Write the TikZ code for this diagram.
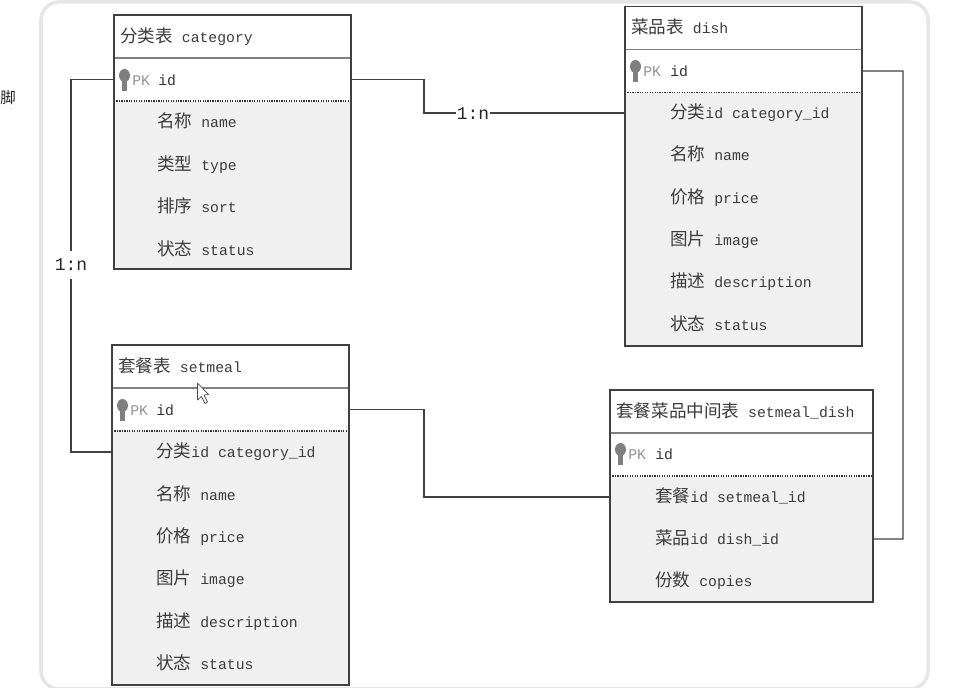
\documentclass[tikz,border=0pt]{standalone}
\usepackage{fontspec}
\setmainfont{Liberation Mono}
\newfontfamily\cjk[Scale=1.19]{Noto Sans CJK SC}
\newcommand{\cn}[1]{{\cjk #1}}
\definecolor{tableline}{HTML}{404040}
\definecolor{tabletext}{HTML}{3C3C3C}
\definecolor{bodygray}{HTML}{F0F0F0}
\definecolor{keygray}{HTML}{7F7F7F}
\definecolor{panelgray}{HTML}{E6E6E6}

\begin{document}
\begin{tikzpicture}[
    cell/.style={anchor=north west, minimum height=#1, inner sep=0pt, outer sep=0pt},
    titlecell/.style={cell=0.86cm, fill=white},
    pkcell/.style={cell=0.86cm, fill=white},
    bodycell/.style={cell=#1, fill=bodygray},
    tablelabel/.style={anchor=west, inner sep=0pt, text height=7pt, text depth=1pt, text=tabletext, font=\fontsize{8.4}{10}\selectfont},
    pklabel/.style={tablelabel, text=gray!85},
    idlabel/.style={tablelabel, text=black!80},
    rellabel/.style={inner sep=0pt, minimum width=0.68cm, minimum height=0.56cm, text=black!85, font=\fontsize{10.2}{12}\selectfont},
    tableframe/.style={draw=tableline, line width=0.8pt},
    relline/.style={draw=tableline, line width=0.8pt},
    titlerule/.style={draw=gray, line width=0.7pt},
    pkrule/.style={draw=black!80, line width=0.7pt, dash pattern=on 0.7pt off 0.7pt},
    pkkey/.pic={
        \fill[keygray] (0,0.09) ellipse (0.11 and 0.13);
        \fill[keygray] (-0.05,0.05) rectangle (0.05,-0.22);
    }
]
    \useasboundingbox (0,0) rectangle (19.4,13.74);

    % --- Panel behind the tables ---
    \draw[panelgray, line width=2pt, rounded corners=0.36cm] (0.82,13.70) rectangle (18.56,-0.04);
    \node[inner sep=0pt, text=black!85, font=\cjk\fontsize{7.4}{9}\selectfont] (sidechar) at (0.16,11.78) {脚};

    % --- Table category ---
    \node[titlecell, minimum width=4.74cm] (cattitle) at (2.28,13.44) {};
    \node[pkcell, minimum width=4.74cm] (catpk) at (cattitle.south west) {};
    \node[bodycell=3.36cm, minimum width=4.74cm] (catbody) at (catpk.south west) {};
    \draw[titlerule] (cattitle.south west) -- (cattitle.south east);
    \draw[pkrule] (catpk.south west) -- (catpk.south east);
    \draw[tableframe] (cattitle.north west) rectangle (catbody.south east);

    \node[tablelabel] (catname) at (2.40,13.00) {\cn{分类表} category};
    \pic at (2.49,12.14) {pkkey};
    \node[pklabel] (catpkl) at (2.64,12.14) {PK};
    \node[idlabel] (catid) at (3.16,12.14) {id};
    \node[tablelabel] (catrow1) at (3.14,11.30) {\cn{名称} name};
    \node[tablelabel] (catrow2) at (3.14,10.44) {\cn{类型} type};
    \node[tablelabel] (catrow3) at (3.14,9.60) {\cn{排序} sort};
    \node[tablelabel] (catrow4) at (3.14,8.74) {\cn{状态} status};

    % --- Table dish ---
    \node[titlecell, minimum width=4.74cm] (dishtitle) at (12.50,13.61) {};
    \node[pkcell, minimum width=4.74cm] (dishpk) at (dishtitle.south west) {};
    \node[bodycell=5.07cm, minimum width=4.74cm] (dishbody) at (dishpk.south west) {};
    \draw[titlerule] (dishtitle.south west) -- (dishtitle.south east);
    \draw[pkrule] (dishpk.south west) -- (dishpk.south east);
    \draw[tableframe] (dishtitle.north west) rectangle (dishbody.south east);

    \node[tablelabel] (dishname) at (12.62,13.18) {\cn{菜品表} dish};
    \pic at (12.71,12.32) {pkkey};
    \node[pklabel] (dishpkl) at (12.86,12.32) {PK};
    \node[idlabel] (dishid) at (13.40,12.32) {id};
    \node[tablelabel] (dishrow1) at (13.40,11.48) {\cn{分类}id category\_id};
    \node[tablelabel] (dishrow2) at (13.40,10.64) {\cn{名称} name};
    \node[tablelabel] (dishrow3) at (13.40,9.78) {\cn{价格} price};
    \node[tablelabel] (dishrow4) at (13.40,8.94) {\cn{图片} image};
    \node[tablelabel] (dishrow5) at (13.40,8.10) {\cn{描述} description};
    \node[tablelabel] (dishrow6) at (13.40,7.24) {\cn{状态} status};

    % --- Table setmeal ---
    \node[titlecell, minimum width=4.74cm] (mealtitle) at (2.24,6.84) {};
    \node[pkcell, minimum width=4.74cm] (mealpk) at (mealtitle.south west) {};
    \node[bodycell=5.08cm, minimum width=4.74cm] (mealbody) at (mealpk.south west) {};
    \draw[titlerule] (mealtitle.south west) -- (mealtitle.south east);
    \draw[pkrule] (mealpk.south west) -- (mealpk.south east);
    \draw[tableframe] (mealtitle.north west) rectangle (mealbody.south east);

    \node[tablelabel] (mealname) at (2.36,6.40) {\cn{套餐表} setmeal};
    \pic at (2.45,5.54) {pkkey};
    \node[pklabel] (mealpkl) at (2.60,5.54) {PK};
    \node[idlabel] (mealid) at (3.12,5.54) {id};
    \node[tablelabel] (mealrow1) at (3.12,4.70) {\cn{分类}id category\_id};
    \node[tablelabel] (mealrow2) at (3.12,3.84) {\cn{名称} name};
    \node[tablelabel] (mealrow3) at (3.12,3.00) {\cn{价格} price};
    \node[tablelabel] (mealrow4) at (3.12,2.16) {\cn{图片} image};
    \node[tablelabel] (mealrow5) at (3.12,1.30) {\cn{描述} description};
    \node[tablelabel] (mealrow6) at (3.12,0.46) {\cn{状态} status};

    % --- Table setmeal_dish ---
    \node[titlecell, minimum width=5.26cm] (linktitle) at (12.20,5.94) {};
    \node[pkcell, minimum width=5.26cm] (linkpk) at (linktitle.south west) {};
    \node[bodycell=2.52cm, minimum width=5.26cm] (linkbody) at (linkpk.south west) {};
    \draw[titlerule] (linktitle.south west) -- (linktitle.south east);
    \draw[pkrule] (linkpk.south west) -- (linkpk.south east);
    \draw[tableframe] (linktitle.north west) rectangle (linkbody.south east);

    \node[tablelabel] (linkname) at (12.32,5.50) {\cn{套餐菜品中间表} setmeal\_dish};
    \pic at (12.41,4.66) {pkkey};
    \node[pklabel] (linkpkl) at (12.56,4.66) {PK};
    \node[idlabel] (linkid) at (13.10,4.66) {id};
    \node[tablelabel] (linkrow1) at (13.10,3.80) {\cn{套餐}id setmeal\_id};
    \node[tablelabel] (linkrow2) at (13.10,2.96) {\cn{菜品}id dish\_id};
    \node[tablelabel] (linkrow3) at (13.10,2.12) {\cn{份数} copies};

    % --- Relations ---
    \node[rellabel] (reldish) at (9.46,11.47) {1:n};
    \node[rellabel] (relmeal) at (1.42,8.44) {1:n};
    \coordinate (benddish) at (8.48,11.48);
    \coordinate (bendmeal) at (8.48,3.80);
    \coordinate (bendlink) at (18.06,12.32);

    \draw[relline] (catpk.east) -| (benddish) -- (reldish.west |- benddish);
    \draw[relline] (reldish.east |- benddish) -- (dishbody.west |- dishrow1);
    \draw[relline] (catpk.west) -| (relmeal.north);
    \draw[relline] (relmeal.south) |- (mealbody.west |- mealrow1);
    \draw[relline] (mealpk.east) -| (bendmeal) -- (linkbody.west |- linkrow1);
    \draw[relline] (linkbody.east |- linkrow2) -| (bendlink) -- (dishpk.east);

    % Mouse pointer over the setmeal title
    \draw[fill=white, draw=black!70, line width=0.4pt, line join=round]
        (3.95,6.08) -- (3.95,5.74) -- (4.03,5.81) -- (4.10,5.67) -- (4.15,5.70)
        -- (4.08,5.84) -- (4.17,5.85) -- cycle;
\end{tikzpicture}
\end{document}
